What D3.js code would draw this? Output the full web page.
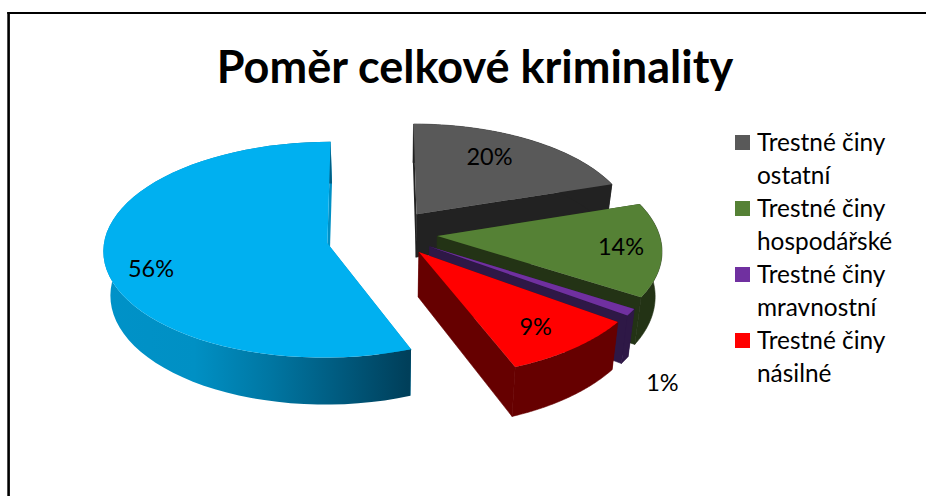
<!DOCTYPE html>
<html><head><meta charset="utf-8">
<script src="https://cdn.jsdelivr.net/npm/d3@7"></script>
<style>html,body{margin:0;padding:0;background:#fff;overflow:hidden}svg{display:block}text{font-family:Lato,"Open Sans",sans-serif;fill:#000}</style>
</head><body><svg id="c" width="926" height="496"></svg>
<script>
const titleText = "Poměr celkové kriminality";
const categories = ["Trestné činy ostatní","Trestné činy hospodářské","Trestné činy mravnostní","Trestné činy násilné","Ostatní"];
const values = [20,14,1,9,56];
const topColors = ["#595959","#558135","#7030A0","#FF0000","#00B0F0"];
const sideColors = ["#222222","#233315","#2E1846","#660000","#0090C5"];
const legendCount = 4;
// layout constants
const explode = [0.22,0.22,0.22,0.22,0.26];
const radial = [0.97,0.985,0.98,1,0.99];
const persp = [0.12,0.12,0.12,0.10,0.06];
const shiftX = [0,0,0,0,-3];
const shiftY = [0,0,0,0,5];
const labelDeg = [31.4,97.2,141,143,253];
const labelR = [0.72,0.82,1.40,0.78,0.81];
const VX=388, VY=233, RX=225, RY=108, DEPTH=44, SHRINK=0.975;

const svg=d3.select("#c");
svg.append("line").attr("x1",8.6).attr("x2",8.6).attr("y1",12).attr("y2",496).attr("stroke","#000").attr("stroke-width",2.6);
svg.append("line").attr("x1",7.3).attr("x2",926).attr("y1",13).attr("y2",13).attr("stroke","#000").attr("stroke-width",2);

const defs=svg.append("defs");
const grad=defs.append("linearGradient").attr("id","blueWall").attr("gradientUnits","userSpaceOnUse").attr("x1",103).attr("x2",408).attr("y1",0).attr("y2",0);
[[0,"#0092C8"],[0.3,"#0090C4"],[0.55,"#0076A2"],[0.78,"#005A7E"],[1,"#003F5A"]].forEach(s=>grad.append("stop").attr("offset",s[0]).attr("stop-color",s[1]));

const xS=d3.scaleLinear().domain([0,1]).range([VX,VX+RX]);
const yS=d3.scaleLinear().domain([0,1]).range([VY,VY+RY]);
const pie=d3.pie().sort(null).value(d=>d)(values);

function pt(i,theta,r,low){
  const mid=(pie[i].startAngle+pie[i].endAngle)/2,e=explode[i],rr=r*radial[i];
  const wx=e*Math.sin(mid)+rr*Math.sin(theta);
  const wy=-e*Math.cos(mid)-rr*Math.cos(theta);
  const s=1/(1-persp[i]*wy);
  let X=xS(wx*s),Y=yS(wy*s);
  if(low){X=VX+(X-VX)*SHRINK;Y=Y+DEPTH*s;}
  return [X+shiftX[i],Y+shiftY[i]];
}
const line=d3.line().curve(d3.curveLinearClosed);
const arcPts=(i,a,b,low)=>d3.range(0,61).map(k=>pt(i,a+(b-a)*k/60,1,low));

function draw(i){
  const a=pie[i].startAngle,b=pie[i].endAngle,g=svg.append("g");
  const face=t=>[pt(i,t,0,false),pt(i,t,1,false),pt(i,t,1,true),pt(i,t,0,true)];
  g.append("path").attr("d",line(face(a))).attr("fill",sideColors[i]);
  g.append("path").attr("d",line(face(b))).attr("fill",sideColors[i]).attr("stroke",i===4?"none":sideColors[i]).attr("stroke-width",0.6);
  g.append("path").attr("d",line(arcPts(i,a,b,false).concat(arcPts(i,a,b,true).reverse())))
    .attr("fill",i===4?"url(#blueWall)":sideColors[i]).attr("stroke",i===4?"none":sideColors[i]).attr("stroke-width",0.6);
  g.append("path").attr("d",line([pt(i,a,0,false)].concat(arcPts(i,a,b,false)))).attr("fill",topColors[i]);
}
[4,0,1,2,3].forEach(draw);

values.forEach((v,i)=>{
  const th=labelDeg[i]*Math.PI/180,p=pt(i,th,labelR[i],false);
  svg.append("text").attr("x",p[0]).attr("y",p[1]+8).attr("text-anchor","middle").attr("font-size",23.5).text(v+"%");
});

svg.append("text").attr("x",475).attr("y",83).attr("text-anchor","middle").attr("font-size",45).attr("font-weight",700).text(titleText);

const lg=svg.append("g");
const legY=d3.scaleLinear().domain([0,1]).range([135,201]);
categories.slice(0,legendCount).forEach((c,i)=>{
  const y=legY(i),w=c.split(" ");
  lg.append("rect").attr("x",735).attr("y",y).attr("width",15).attr("height",15).attr("fill",topColors[i]);
  lg.append("text").attr("x",757).attr("y",y+16).attr("font-size",24.4).text(w.slice(0,2).join(" "));
  lg.append("text").attr("x",757).attr("y",y+49).attr("font-size",24.4).text(w[2]);
});
</script></body></html>
